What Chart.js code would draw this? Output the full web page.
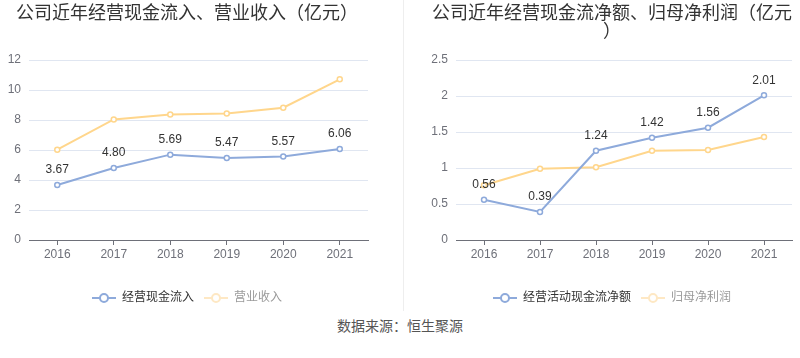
<!DOCTYPE html>
<html><head><meta charset="utf-8">
<script src="https://cdn.jsdelivr.net/npm/chart.js@4/dist/chart.umd.min.js"></script>
<style>
html,body{margin:0;padding:0;background:#fff;width:800px;height:358px;overflow:hidden}
#wrap{position:relative;width:800px;height:358px}
.box{position:absolute;top:0;width:400px;height:312px}
#sep{position:absolute;left:403px;top:0;width:1px;height:311px;background:#eeeeee}
#src{position:absolute;left:0;width:800px;top:315px;line-height:18px;text-align:center;font:14px "Noto Sans CJK SC",sans-serif;color:#555}
</style></head>
<body>
<div id="wrap">
  <div class="box" style="left:0"><canvas id="c1" width="400" height="312"></canvas></div>
  <div class="box" style="left:400px"><canvas id="c2" width="400" height="312"></canvas></div>
  <div id="sep"></div>
  <div id="src">数据来源：恒生聚源</div>
</div>
<script>
// ---- data ----
const years = ['2016', '2017', '2018', '2019', '2020', '2021'];
const cashInflow = [3.67, 4.80, 5.69, 5.47, 5.57, 6.06];      // 经营现金流入
const revenue = [6.02, 8.04, 8.36, 8.44, 8.82, 10.71];        // 营业收入
const netCashFlow = [0.56, 0.39, 1.24, 1.42, 1.56, 2.01];     // 经营活动现金流净额
const netProfit = [0.76, 0.99, 1.01, 1.24, 1.25, 1.43];       // 归母净利润
const leftTitle = ['公司近年经营现金流入、营业收入（亿元）'];
const rightTitle = ['公司近年经营现金流净额、归母净利润（亿元', '）'];
const leftNames = ['经营现金流入', '营业收入'];
const rightNames = ['经营活动现金流净额', '归母净利润'];
const leftAxis = { max: 12, step: 2 };
const rightAxis = { max: 2.5, step: 0.5 };

const BLUE = '#8eaadb';
const ORANGE = '#ffd68c';
const FONT = '"Liberation Sans", "Noto Sans CJK SC", sans-serif';
const AXIS = '#6e7079';

const deco = {
  id: 'deco',
  afterDatasetsDraw(chart, args, opts) {
    const ctx = chart.ctx;
    ctx.save();
    // data labels of the first series
    const meta = chart.getDatasetMeta(0);
    ctx.font = '12px ' + FONT;
    ctx.fillStyle = '#333';
    ctx.textAlign = 'center';
    ctx.textBaseline = 'middle';
    meta.data.forEach((pt, i) => {
      const v = chart.data.datasets[0].data[i];
      ctx.fillText(v.toFixed(2), pt.x, pt.y - 15);
    });
    // title
    ctx.font = '18px ' + FONT;
    ctx.fillStyle = '#333';
    opts.title.forEach((t, i) => ctx.fillText(t, opts.cx, 14 + i * 18));
    // legend
    ctx.font = '12px ' + FONT;
    const items = chart.data.datasets.map((d, i) => ({
      label: d.label,
      w: 30 + ctx.measureText(d.label).width,
      color: i === 0 ? BLUE : '#fee8c4',
      text: i === 0 ? '#333' : '#9a9a9a'
    }));
    const total = items.reduce((s, it) => s + it.w, 0) + 10 * (items.length - 1);
    let x = opts.cx - total / 2;
    const y = 298;
    items.forEach(it => {
      ctx.strokeStyle = it.color;
      ctx.lineWidth = 2;
      ctx.beginPath(); ctx.moveTo(x, y); ctx.lineTo(x + 24, y); ctx.stroke();
      ctx.beginPath(); ctx.arc(x + 12, y, 4, 0, Math.PI * 2);
      ctx.fillStyle = '#fff'; ctx.fill(); ctx.stroke();
      ctx.fillStyle = it.text;
      ctx.textAlign = 'left';
      ctx.fillText(it.label, x + 30, y);
      x += it.w + 10;
    });
    ctx.restore();
  }
};

function makeChart(id, s1, s2, names, axis, title, cx, yWidth, padRight) {
  const ds = (label, data, color) => ({
    label, data, borderColor: color, backgroundColor: '#fff',
    borderWidth: 2, pointRadius: 2.5, pointBorderWidth: 1.5,
    pointBackgroundColor: '#fff', pointBorderColor: color, tension: 0
  });
  return new Chart(document.getElementById(id), {
    type: 'line',
    data: {
      labels: years,
      datasets: [ds(names[0], s1, BLUE), ds(names[1], s2, ORANGE)]
    },
    options: {
      responsive: false, animation: false,
      layout: { padding: { top: 60, right: padRight, left: 0, bottom: 0 } },
      plugins: {
        legend: { display: false }, title: { display: false }, tooltip: { enabled: false },
        deco: { title, cx }
      },
      scales: {
        x: {
          offset: true,
          grid: { drawOnChartArea: false, drawTicks: true, tickLength: 5, color: AXIS },
          border: { display: true, color: AXIS, width: 1 },
          ticks: { color: AXIS, font: { size: 12, family: FONT }, padding: 2, maxRotation: 0 },
          afterFit(scale) { scale.height = 72; }
        },
        y: {
          min: 0, max: axis.max,
          grid: { color: '#e0e6f1', drawTicks: false, lineWidth: 1 },
          border: { display: false },
          ticks: {
            stepSize: axis.step, color: AXIS, font: { size: 12, family: FONT }, padding: 8,
            callback: v => String(Number(Number(v).toFixed(2)))
          },
          afterFit(scale) { scale.width = yWidth; }
        }
      }
    },
    plugins: [deco]
  });
}

makeChart('c1', cashInflow, revenue, leftNames, leftAxis, leftTitle, 187, 29, 32);
makeChart('c2', netCashFlow, netProfit, rightNames, rightAxis, rightTitle, 212, 56, 8);
</script>
</body></html>
